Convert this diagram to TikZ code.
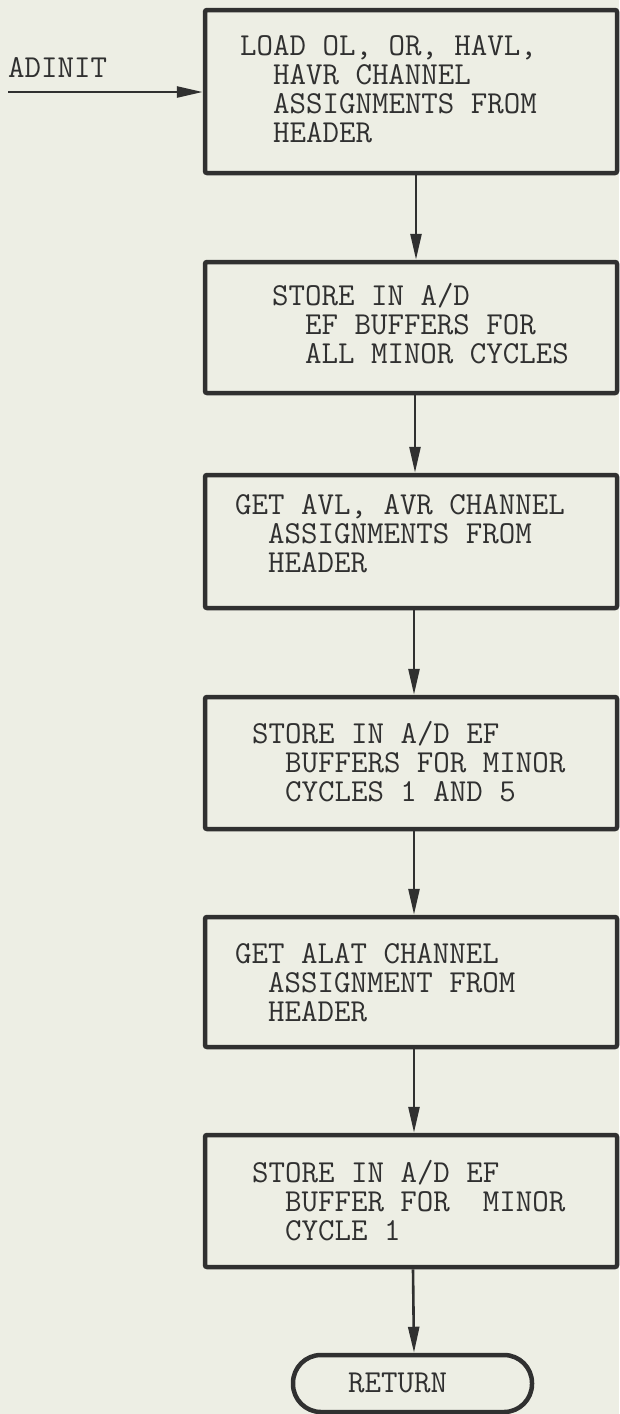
\documentclass[tikz,border=0pt]{standalone}
\usetikzlibrary{arrows.meta}
\definecolor{paper}{HTML}{EDEEE4}
\definecolor{ink}{HTML}{303030}
\tikzset{
  stepbox/.style={draw=ink, line width=4.5pt, rounded corners=2pt, inner sep=0pt,
    minimum width=412pt},
  endbox/.style={draw=ink, line width=4.5pt, rounded corners=28pt, inner sep=0pt,
    minimum width=239pt, minimum height=57pt},
  txt/.style={text=ink, inner sep=0pt, anchor=base west,
    font=\ttfamily\fontsize{32}{29}\selectfont},
  flow/.style={draw=ink, line width=2.6pt, -{Triangle[length=26pt,width=11pt]}},
}
\newcommand{\lines}[1]{\vtop{#1}}
\begin{document}
\begin{tikzpicture}[x=1pt,y=-1pt]
\fill[paper] (0,0) rectangle (619,1414);
\useasboundingbox (0,0) rectangle (619,1414);

% boxes
\node[stepbox, minimum height=163pt] (b1) at (411,91.5) {};
\node[stepbox, minimum height=131pt] (b2) at (411,327.5) {};
\node[stepbox, minimum height=133pt] (b3) at (411,541.5) {};
\node[stepbox, minimum height=132pt] (b4) at (411,763) {};
\node[stepbox, minimum height=130pt] (b5) at (411,982) {};
\node[stepbox, minimum height=132pt] (b6) at (411,1201) {};
\node[endbox] (ret) at (412.5,1383.5) {};

% texts
\node[txt] (t1) at (240,55) {\lines{\hbox{LOAD OL, OR, HAVL,}\hbox{\phantom{XX}HAVR CHANNEL}\hbox{\phantom{XX}ASSIGNMENTS FROM}\hbox{\phantom{XX}HEADER}}};
\node[txt] (t2) at (272,305) {\lines{\hbox{STORE IN A/D}\hbox{\phantom{XX}EF BUFFERS FOR}\hbox{\phantom{XX}ALL MINOR CYCLES}}};
\node[txt] (t3) at (235,514) {\lines{\hbox{GET AVL, AVR CHANNEL}\hbox{\phantom{XX}ASSIGNMENTS FROM}\hbox{\phantom{XX}HEADER}}};
\node[txt] (t4) at (252,743) {\lines{\hbox{STORE IN A/D EF}\hbox{\phantom{XX}BUFFERS FOR MINOR}\hbox{\phantom{XX}CYCLES 1 AND 5}}};
\node[txt] (t5) at (235,963) {\lines{\hbox{GET ALAT CHANNEL}\hbox{\phantom{XX}ASSIGNMENT FROM}\hbox{\phantom{XX}HEADER}}};
\node[txt] (t6) at (252,1182) {\lines{\hbox{STORE IN A/D EF}\hbox{\phantom{XX}BUFFER FOR\ \ MINOR}\hbox{\phantom{XX}CYCLE 1}}};
\node[txt] (tr) at (348,1392) {RETURN};
\node[txt] (ta) at (8,77) {ADINIT};

% connectors
\coordinate (in) at (8,92);
\draw[flow] (in) -- (in -| b1.west);
\draw[flow] ([xshift=5pt]b1.south) -- ([xshift=5pt]b2.north);
\draw[flow] ([xshift=4pt]b2.south) -- ([xshift=4pt]b3.north);
\draw[flow] ([xshift=3pt]b3.south) -- ([xshift=3pt]b4.north);
\draw[flow] ([xshift=3pt]b4.south) -- ([xshift=3pt]b5.north);
\draw[flow] ([xshift=3pt]b5.south) -- ([xshift=3pt]b6.north);
\draw[flow] ([xshift=2pt]b6.south) -- ([xshift=1.5pt]ret.north);
\end{tikzpicture}
\end{document}
